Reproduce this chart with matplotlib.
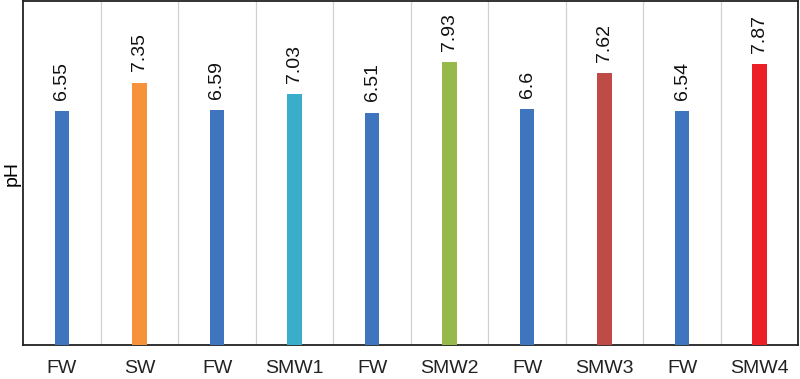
import matplotlib
matplotlib.use("Agg")
import matplotlib.pyplot as plt
import numpy as np

categories = ["FW", "SW", "FW", "SMW1", "FW", "SMW2", "FW", "SMW3", "FW", "SMW4"]
values = [6.55, 7.35, 6.59, 7.03, 6.51, 7.93, 6.6, 7.62, 6.54, 7.87]
labels = ["6.55", "7.35", "6.59", "7.03", "6.51", "7.93", "6.6", "7.62", "6.54", "7.87"]
colors = ["#3F74BE", "#F5923A", "#3F74BE", "#3AADCA", "#3F74BE", "#97B94C",
          "#3F74BE", "#BF4B48", "#3F74BE", "#EC1F26"]

plt.rcParams['font.family'] = ['Liberation Sans', 'DejaVu Sans']

fig = plt.figure(figsize=(8, 3.79), dpi=100)
ax = fig.add_axes([0.029, 0.09, 0.969, 0.907])

x = np.arange(len(categories))
ax.bar(x, values, width=0.19, color=colors, zorder=3)
for xi, v, lab in zip(x, values, labels):
    ax.annotate(lab, (xi, v), xytext=(0, 8), textcoords="offset points",
                rotation=90, ha="center", va="bottom", fontsize=14, color="#111111")

ax.set_xlim(-0.5, len(categories) - 0.5)
ax.set_ylim(0, 9.63)
for b in np.arange(0.5, len(categories) - 0.5, 1):
    ax.axvline(b, color="#D0D0D0", lw=0.9, zorder=1)
ax.set_xticks(x)
ax.set_xticklabels(categories, fontsize=14)
ax.tick_params(axis="x", length=0, pad=11, colors="#222222")
ax.set_yticks([])
ax.set_ylabel("pH", fontsize=14, labelpad=2)
for s in ax.spines.values():
    s.set_color("#222222")
    s.set_linewidth(1.3)

fig.savefig("out.png", dpi=100)
